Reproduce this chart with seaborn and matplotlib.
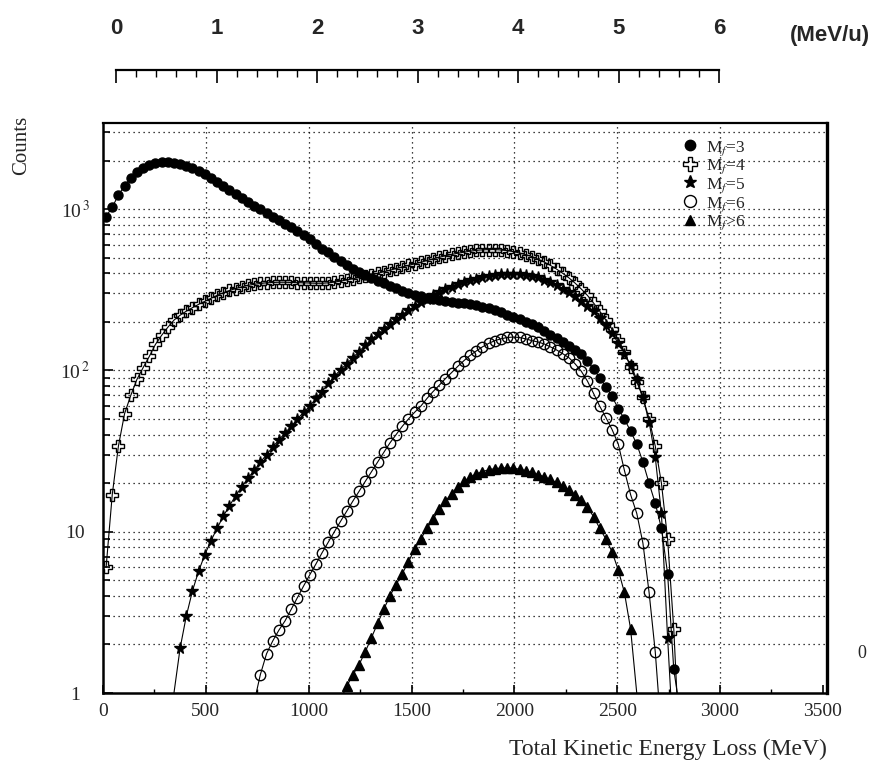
import numpy as np
import pandas as pd
import matplotlib
matplotlib.use("Agg")
import matplotlib.pyplot as plt
import seaborn as sns
from matplotlib.ticker import FixedLocator, MultipleLocator, NullFormatter, FixedFormatter
from matplotlib.lines import Line2D

# ---------------- data (bin centres in MeV, counts) ----------------
BIN = 30
x_m3 = np.arange(15, 2776, BIN)
y_m3 = [900, 1030, 1220, 1400, 1560, 1700, 1810, 1890, 1940, 1960,
        1960, 1940, 1900, 1850, 1790, 1720, 1650, 1570, 1480, 1390,
        1310, 1240, 1170, 1100, 1050, 1000, 950, 900, 855, 810,
        770, 730, 690, 650, 610, 570, 540, 505, 475, 450,
        428, 410, 390, 375, 360, 347, 335, 323, 312, 303,
        295, 288, 282, 277, 272, 268, 265, 263, 261, 258,
        254, 249, 243, 236, 229, 222, 214, 207, 200, 193,
        185, 175, 166, 158, 150, 142, 134, 126, 114, 102,
        90, 79, 69, 58, 50, 42, 35, 27, 20, 15,
        10.5, 5.5, 1.4]

x_m4 = np.arange(15, 2776, BIN)
y_m4 = [6, 17, 34, 54, 70, 88, 104, 122, 145, 165,
        185, 205, 220, 233, 245, 257, 268, 280, 292, 303,
        313, 322, 330, 337, 342, 346, 349, 351, 352, 352,
        351, 350, 349, 348, 347, 347, 349, 353, 358, 364,
        370, 377, 384, 392, 400, 409, 418, 428, 438, 448,
        458, 468, 480, 492, 503, 514, 524, 533, 541, 549,
        555, 559, 561, 561, 558, 553, 545, 535, 522, 508,
        490, 470, 448, 425, 400, 375, 348, 320, 292, 262,
        233, 205, 180, 155, 130, 105, 85, 68, 50, 34,
        20, 9, 2.5]

x_m5 = np.arange(375, 2746, BIN)
y_m5 = [1.9, 3.0, 4.3, 5.7, 7.2, 8.8, 10.5, 12.5, 14.5, 16.7,
        19, 21.5, 24, 27, 30, 33.5, 37, 41, 45, 50,
        55, 60, 67, 74, 83, 92, 101, 110, 120, 131,
        143, 156, 168, 180, 195, 208, 222, 236, 250, 264,
        278, 292, 305, 318, 330, 341, 352, 362, 371, 379,
        386, 392, 396, 398, 398, 396, 391, 385, 377, 366,
        353, 338, 322, 306, 288, 270, 252, 232, 210, 190,
        170, 148, 127, 108, 88, 68, 48, 29, 13, 2.2]

x_m6 = np.arange(765, 2686, BIN)
y_m6 = [1.3, 1.75, 2.1, 2.45, 2.8, 3.3, 3.9, 4.6, 5.4, 6.3,
        7.4, 8.6, 10, 11.6, 13.4, 15.5, 17.8, 20.5, 23.5, 27,
        31, 35.5, 40, 45, 50, 55, 60, 67, 74, 81,
        89, 97, 106, 115, 124, 132, 140, 147, 153, 157,
        160, 161, 160, 157, 153, 150, 146, 140, 134, 127,
        120, 110, 99, 86, 72, 60, 51, 43, 35, 24,
        17, 13, 8.5, 4.2, 1.8]

x_m7 = np.arange(1185, 2566, BIN)
y_m7 = [1.1, 1.3, 1.5, 1.8, 2.2, 2.7, 3.3, 4.0, 4.7, 5.5,
        6.5, 7.8, 9.0, 10.5, 12, 13.8, 15.5, 17.2, 19, 20.5,
        21.8, 22.8, 23.6, 24.2, 24.6, 24.8, 24.9, 24.8, 24.4, 23.9,
        23.3, 22.6, 21.9, 21.1, 20.2, 19.2, 18.1, 17, 15.8, 14.2,
        12.4, 10.5, 9, 7.5, 5.8, 4.2, 2.5]

# energies where each drawn curve meets the bottom axis (count = 1): (left, right)
x_at_1 = [(None, 2792), (None, 2790), (345, 2760), (745, 2700), (1170, 2595)]

labels = ["M$_{f}$=3", "M$_{f}$=4", "M$_{f}$=5", "M$_{f}$=6", "M$_{f}$>6"]
x_ticks = [0, 500, 1000, 1500, 2000, 2500, 3000, 3500]
y_ticks = [1, 10, 100, 1000]
y_ticklabels = ["1", "10", "10$^{\\,2}$", "10$^{\\,3}$"]
top_ticks = [0, 1, 2, 3, 4, 5, 6]

# ---------------- style ----------------
sns.set_theme(style="white")
plt.rcParams["font.family"] = ["Liberation Serif", "DejaVu Serif"]
plt.rcParams["mathtext.fontset"] = "stix"

W, H = 886, 768
fig = plt.figure(figsize=(W / 100, H / 100), dpi=100)
L, R, T, B = 103, 827, 123, 693
ax = fig.add_axes([L / W, 1 - B / H, (R - L) / W, (B - T) / H])

styles = [
    dict(marker="o", markersize=6.5, markerfacecolor="black"),
    dict(marker="P", markersize=8.5, markerfacecolor="none"),
    dict(marker="*", markersize=8.5, markerfacecolor="black"),
    dict(marker="o", markersize=7.5, markerfacecolor="none"),
    dict(marker="^", markersize=6.5, markerfacecolor="black"),
]
series = [(x_m3, y_m3), (x_m4, y_m4), (x_m5, y_m5), (x_m6, y_m6), (x_m7, y_m7)]

for (xs, ys), ends, st in zip(series, x_at_1, styles):
    # connecting line, running down to the axis
    lx, ly = list(xs), list(ys)
    if ends[0] is not None:
        lx, ly = [ends[0]] + lx, [1.0] + ly
    if ends[1] is not None:
        lx, ly = lx + [ends[1]], ly + [1.0]
    sns.lineplot(x=lx, y=ly, ax=ax, color="black", linewidth=0.8,
                 estimator=None, sort=False, legend=False)
    # markers at the bins
    df = pd.DataFrame({"E": xs, "N": ys})
    sns.lineplot(data=df, x="E", y="N", ax=ax, color="black", linestyle="none",
                 markeredgecolor="black", markeredgewidth=1.0,
                 estimator=None, sort=True, legend=False, **st)

ax.set_yscale("log")
ax.set_xlim(0, 3520)
ax.set_ylim(1, 3420)

# grid
for xv in x_ticks[1:-1]:
    ax.axvline(xv, color="black", lw=0.9, ls=(0, (1, 3)), zorder=0)
for dec in [1, 10, 100, 1000]:
    for m in range(1, 10):
        v = dec * m
        if 1 < v < 3420:
            ax.axhline(v, color="black", lw=0.9, ls=(0, (1, 3)), zorder=0)

ax.xaxis.set_major_locator(FixedLocator(x_ticks))
ax.xaxis.set_minor_locator(MultipleLocator(250))
ax.yaxis.set_major_locator(FixedLocator(y_ticks))
ax.yaxis.set_major_formatter(FixedFormatter(y_ticklabels))
minors = [d * m for d in [1, 10, 100, 1000] for m in range(2, 10) if d * m < 3420]
ax.yaxis.set_minor_locator(FixedLocator(minors))
ax.yaxis.set_minor_formatter(NullFormatter())

ax.tick_params(axis="both", which="both", direction="in", left=True, bottom=True,
               right=False, top=False, color="black")
ax.tick_params(axis="x", which="major", length=6, width=1.2, labelsize=14, pad=7)
ax.tick_params(axis="x", which="minor", length=3, width=1)
ax.tick_params(axis="y", which="major", length=7, width=1.2, labelsize=14, pad=20)
ax.tick_params(axis="y", which="minor", length=5, width=1.2)
for t in ax.get_yticklabels():
    t.set_horizontalalignment("center")

for side, lw in [("left", 1.8), ("bottom", 1.8), ("top", 1.6), ("right", 2.4)]:
    ax.spines[side].set_visible(True)
    ax.spines[side].set_color("black")
    ax.spines[side].set_linewidth(lw)

ax.set_xlabel("Total Kinetic Energy Loss (MeV)", fontsize=17, loc="right", labelpad=14)
ax.set_ylabel("")
fig.text(22 / W, 1 - 145 / H, "Counts", rotation=90, fontsize=15, ha="center", va="center")

# legend
handles = []
for lab, st in zip(labels, styles):
    handles.append(Line2D([], [], color="black", linestyle="none", markeredgecolor="black",
                          markeredgewidth=1.0, **st))
ax.legend(handles, labels, loc="upper left", bbox_to_anchor=(0.785, 0.99), frameon=False,
          fontsize=12.5, handlelength=1.0, handletextpad=0.4, labelspacing=0.0,
          borderaxespad=0.2, markerscale=1.15)

# top energy-per-nucleon scale
TL, TR, TY = 116, 719, 70
axt = fig.add_axes([TL / W, 1 - (TY + 20) / H, (TR - TL) / W, 20 / H])
axt.set_xlim(0, 6)
axt.set_yticks([])
axt.patch.set_alpha(0)
for side in ["left", "right", "bottom"]:
    axt.spines[side].set_visible(False)
axt.spines["top"].set_visible(True)
axt.spines["top"].set_color("black")
axt.spines["top"].set_linewidth(1.6)
axt.xaxis.tick_top()
axt.xaxis.set_major_locator(FixedLocator(top_ticks))
axt.xaxis.set_minor_locator(MultipleLocator(0.2))
axt.tick_params(axis="x", which="both", direction="in", color="black", bottom=False, top=True)
axt.tick_params(axis="x", which="major", length=9, width=1.2, labelsize=16, pad=22)
axt.tick_params(axis="x", which="minor", length=5, width=1.0)
for t in axt.get_xticklabels():
    t.set_family(["Liberation Sans", "DejaVu Sans"])
    t.set_fontweight("bold")
fig.text(830 / W, 1 - 36 / H, "(MeV/u)", fontsize=16, fontweight="bold",
         family=["Liberation Sans", "DejaVu Sans"], ha="center", va="center")

# stray mark at right edge of the scanned page
fig.text(862 / W, 1 - 653 / H, "0", fontsize=13, ha="center", va="center")

fig.savefig("out.png", dpi=100)
